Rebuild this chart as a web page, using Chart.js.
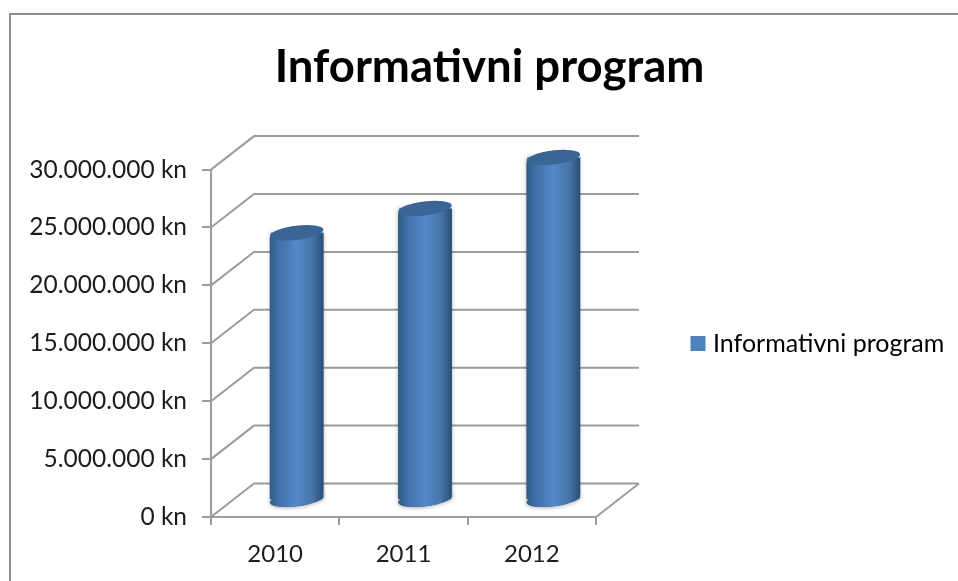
<!DOCTYPE html>
<html>
<head>
<meta charset="utf-8">
<title>Informativni program</title>
<style>
  html, body { margin: 0; padding: 0; background: #fff; overflow: hidden; }
  #frame { position: absolute; left: 9px; top: 13px; width: 960px; height: 580px; border-left: 2px solid #8e8e8e; border-top: 2px solid #8e8e8e; }
  #chart { position: absolute; left: 0; top: 0; filter: blur(0.6px); }
</style>
<script src="https://cdn.jsdelivr.net/npm/chart.js@4/dist/chart.umd.min.js"></script>
</head>
<body>
<div id="frame"></div>
<canvas id="chart" width="958" height="581"></canvas>
<script>
const chartTitle = "Informativni program";
const seriesName = "Informativni program";
const years = ["2010", "2011", "2012"];
const amounts = [23100000, 25200000, 29600000];
const yMax = 30000000;
const yStep = 5000000;

// how far the back wall sits from the front plane
const depthX = 43;
const depthY = -33.5;
const lineColor = "#9c9c9c";
const textColor = "#1c1c1c";
const fontName = "Lato, 'Noto Sans', sans-serif";
const tilt = (-7 * Math.PI) / 180;

function barGradient(ctx, left, right) {
  const g = ctx.createLinearGradient(left, 0, right, 0);
  g.addColorStop(0, "#315a8a");
  g.addColorStop(0.15, "#3f6ea6");
  g.addColorStop(0.5, "#5488c8");
  g.addColorStop(0.8, "#4574a9");
  g.addColorStop(1, "#2c4c75");
  return g;
}

const walls = {
  id: "walls",
  afterLayout(chart) {
    // legend and title do not sit where chart.js would stack them
    chart.legend.left = 685.5;
    chart.legend.right = 958;
    chart.legend.top = 106;
    chart.titleBlock.left = 21;
    chart.titleBlock.right = 958;
  },
  beforeDatasetsDraw(chart) {
    const { ctx, scales } = chart;
    const left = scales.x.left;
    const right = scales.x.right;
    ctx.save();
    ctx.strokeStyle = lineColor;
    ctx.lineWidth = 2;
    scales.y.ticks.forEach((t) => {
      const py = scales.y.getPixelForValue(t.value);
      ctx.beginPath();
      ctx.moveTo(left, py);
      ctx.lineTo(left + depthX, py + depthY);
      ctx.lineTo(right + depthX, py + depthY);
      ctx.stroke();
    });
    const zero = scales.y.getPixelForValue(0);
    ctx.beginPath();
    ctx.moveTo(right, zero);
    ctx.lineTo(right + depthX, zero + depthY);
    ctx.stroke();
    ctx.restore();
  },
  // the real bars are pushed half way into the depth, then capped
  beforeDatasetDraw(chart, args) {
    const ctx = chart.ctx;
    ctx.save();
    ctx.translate(depthX / 2, depthY / 2);
    // soft shadow goes down first so it never lands on the cylinder itself
    ctx.save();
    ctx.shadowColor = "rgba(0,0,0,0.45)";
    ctx.shadowBlur = 5;
    ctx.fillStyle = "#3a6594";
    args.meta.data.forEach((bar) => {
      const rx = bar.width / 2;
      ctx.beginPath();
      ctx.ellipse(bar.x, bar.base, rx, 7, tilt, 0, Math.PI * 2);
      ctx.fill();
      ctx.fillRect(bar.x - rx + 1, bar.y, bar.width - 2, bar.base - bar.y);
    });
    ctx.restore();
  },
  afterDatasetDraw(chart, args) {
    const ctx = chart.ctx;
    args.meta.data.forEach((bar) => {
      const rx = bar.width / 2;
      ctx.beginPath();
      ctx.ellipse(bar.x, bar.base, rx, 7, tilt, 0, Math.PI * 2);
      ctx.fillStyle = barGradient(ctx, bar.x - rx, bar.x + rx);
      ctx.fill();
      ctx.beginPath();
      ctx.ellipse(bar.x, bar.y, rx, 7, tilt, 0, Math.PI * 2);
      ctx.fillStyle = "#3a6594";
      ctx.fill();
    });
    ctx.restore();
  },
};

new Chart(document.getElementById("chart"), {
  type: "bar",
  data: {
    labels: years,
    datasets: [
      {
        label: seriesName,
        data: amounts,
        barPercentage: 0.42,
        categoryPercentage: 1,
        clip: false,
        borderSkipped: false,
        borderRadius: { topLeft: 6, topRight: 0, bottomLeft: 0, bottomRight: 6 },
        backgroundColor: (c) => {
          const x = c.chart.scales.x;
          if (!x || c.dataIndex === undefined) return "#4f81bd";
          const mid = x.getPixelForValue(c.dataIndex);
          const half = (x.width / years.length) * 0.21;
          return barGradient(c.chart.ctx, mid - half, mid + half);
        },
      },
    ],
  },
  options: {
    responsive: false,
    animation: false,
    layout: { padding: { top: 40, right: 142, bottom: 0, left: 0 } },
    plugins: {
      tooltip: { enabled: false },
      title: {
        display: true,
        text: chartTitle,
        color: "#000",
        font: { family: fontName, size: 45.5, weight: "bold" },
        padding: { top: 0, bottom: 75 },
      },
      legend: {
        position: "right",
        maxWidth: 220,
        labels: {
          color: textColor,
          font: { family: fontName, size: 25 },
          boxWidth: 5,
          boxHeight: 5,
          generateLabels: () => [
            { text: seriesName, fillStyle: "#4f81bd", strokeStyle: "#4f81bd", lineWidth: 10, datasetIndex: 0 },
          ],
        },
      },
    },
    scales: {
      x: {
        afterFit: (s) => { s.height = 64; },
        grid: { drawOnChartArea: false, color: lineColor, lineWidth: 2, tickLength: 8 },
        border: { color: lineColor, width: 2 },
        ticks: { color: textColor, padding: 15, font: { family: fontName, size: 24 } },
      },
      y: {
        min: 0,
        max: yMax,
        afterFit: (s) => { s.width = 211; },
        grid: { drawOnChartArea: false, color: lineColor, lineWidth: 2, tickLength: 9 },
        border: { color: lineColor, width: 2 },
        ticks: {
          stepSize: yStep,
          color: textColor,
          padding: 15,
          font: { family: fontName, size: 24.5 },
          callback: (v) => String(v).replace(/\B(?=(\d{3})+$)/g, ".") + " kn",
        },
      },
    },
  },
  plugins: [walls],
});
</script>
</body>
</html>
